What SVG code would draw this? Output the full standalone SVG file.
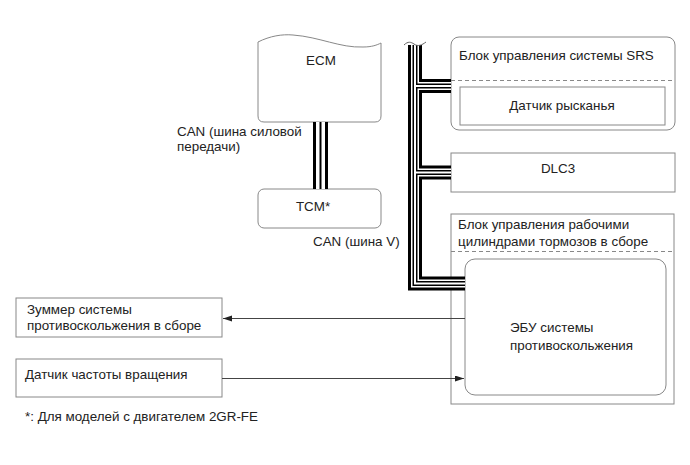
<svg xmlns="http://www.w3.org/2000/svg" width="690" height="465" viewBox="0 0 690 465">
<style>
text{font-family:"Liberation Sans",Arial,sans-serif;font-size:13.4px;fill:#222}
.box{fill:#fff;stroke:#888;stroke-width:1}
.dash{stroke:#888;stroke-width:1;stroke-dasharray:4 3;fill:none}
.l1{fill:none;stroke:#000;stroke-width:14;stroke-linejoin:miter}
.l2{fill:none;stroke:#fff;stroke-width:8;stroke-linejoin:miter}
.l3{fill:none;stroke:#000;stroke-width:5;stroke-linejoin:miter}
.l4{fill:none;stroke:#fff;stroke-width:2;stroke-linejoin:miter}
.c1{fill:none;stroke:#000;stroke-width:15}
.c2{fill:none;stroke:#fff;stroke-width:9}
.c3{fill:none;stroke:#000;stroke-width:2}
.arr{fill:none;stroke:#444;stroke-width:1}
</style>
<defs>
<marker id="ah" markerUnits="userSpaceOnUse" markerWidth="10" markerHeight="8" refX="9" refY="3" orient="auto">
<path d="M0,0 L9,3 L0,6 Z" fill="#222"/>
</marker>
<path id="bus" d="M415,45 V283.5 H465 M415,86 H451 M415,172.5 H451"/>
<path id="cab" d="M320.5,122 V189"/>
</defs>

<g id="ecm">
<path class="box" d="M258,42 C270,36 282,34 293,35 C320,37 340,48 363,47 C372,47 377,45 381,43 L381,116 Q381,122 375,122 L264,122 Q258,122 258,116 Z"/>
<text x="321" y="65" text-anchor="middle">ECM</text>
</g>

<g id="tcm">
<rect class="box" x="258" y="189" width="123" height="39" rx="6"/>
<text x="313" y="211" text-anchor="middle">TCM*</text>
</g>

<g id="srs">
<rect class="box" x="451" y="37" width="224" height="93" rx="8"/>
<line class="dash" x1="451" y1="80.5" x2="675" y2="80.5"/>
<text x="459" y="60">Блок управления системы SRS</text>
</g>
<g id="yaw">
<rect class="box" x="460" y="87" width="205" height="38"/>
<text x="562" y="110" text-anchor="middle">Датчик рысканья</text>
</g>

<g id="dlc3">
<rect class="box" x="451" y="153" width="224" height="39"/>
<text x="558" y="173" text-anchor="middle">DLC3</text>
</g>

<g id="brake">
<rect class="box" x="451" y="214" width="223" height="190"/>
<line class="dash" x1="451" y1="251.5" x2="674" y2="251.5"/>
<text x="458" y="229">Блок управления рабочими</text>
<text x="458" y="246">цилиндрами тормозов в сборе</text>
</g>
<g id="ecu">
<rect class="box" x="465" y="259" width="201" height="136" rx="10"/>
<text x="510" y="332">ЭБУ системы</text>
<text x="510" y="350">противоскольжения</text>
</g>

<g id="buzzer">
<rect class="box" x="16" y="298" width="206" height="39"/>
<text x="27" y="314">Зуммер системы</text>
<text x="27" y="330">противоскольжения в сборе</text>
</g>

<g id="speed">
<rect class="box" x="16" y="359" width="206" height="38"/>
<text x="25" y="379">Датчик частоты вращения</text>
</g>

<g id="connectors">
<use href="#bus" class="l1"/>
<use href="#bus" class="l2"/>
<use href="#bus" class="l3"/>
<use href="#bus" class="l4"/>
<path d="M404,45 C408,41 411,42 414,44 C418,47 422,45 426,42" fill="none" stroke="#666" stroke-width="1"/>
<use href="#cab" class="c1"/>
<use href="#cab" class="c2"/>
<use href="#cab" class="c3"/>
<line class="arr" x1="465" y1="318.5" x2="223" y2="318.5" marker-end="url(#ah)"/>
<line class="arr" x1="222" y1="378.5" x2="464" y2="378.5" marker-end="url(#ah)"/>
</g>

<g id="labels">
<text x="177" y="136">CAN (шина силовой</text>
<text x="177" y="151">передачи)</text>
<text x="313" y="246">CAN (шина V)</text>
<text x="25" y="421">*: Для моделей с двигателем 2GR-FE</text>
</g>
</svg>
